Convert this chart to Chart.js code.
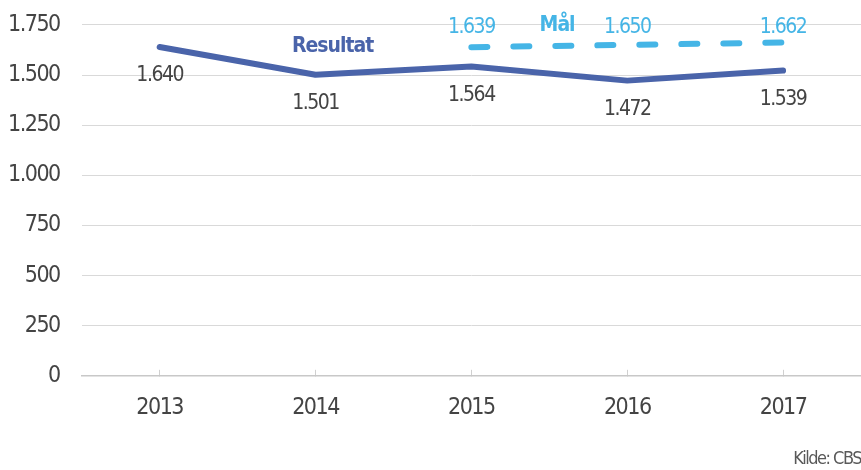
<!DOCTYPE html>
<html>
<head>
<meta charset="utf-8">
<script src="https://cdn.jsdelivr.net/npm/chart.js@4/dist/chart.umd.min.js"></script>
<style>
  html, body { margin: 0; padding: 0; background: #fff; }
  #wrap { width: 861px; height: 470px; }
</style>
</head>
<body>
<div id="wrap"><canvas id="chart"></canvas></div>
<script>
// Data
const years = ['2013', '2014', '2015', '2016', '2017'];
const resultat = [1640, 1501, 1542, 1472, 1522];
const resultatText = ['1.640', '1.501', '1.564', '1.472', '1.539'];
const maal = [null, null, 1639, 1650, 1662];
const maalText = ['', '', '1.639', '1.650', '1.662'];

const FONT = "'DejaVu Sans Condensed', 'DejaVu Sans', sans-serif";
const darkBlue = '#4a64aa';
const lightBlue = '#45b5e6';
const textGrey = '#444444';

// tighter letters so the condensed font gets closer to the narrow original
const tightText = {
    id: 'tightText',
    beforeLayout(chart) { chart.ctx.letterSpacing = '-1.5px'; },
    beforeDraw(chart) { chart.ctx.letterSpacing = '-1.5px'; }
};

// value labels + series names drawn at the points' own positions
const labelPlugin = {
    id: 'valueLabels',
    afterDatasetsDraw(chart) {
        const ctx = chart.ctx;
        const x = chart.scales.x, y = chart.scales.y;
        ctx.save();
        ctx.letterSpacing = '-1.5px';
        ctx.textAlign = 'center';
        ctx.textBaseline = 'middle';
        ctx.font = '21px ' + FONT;

        // Resultat labels below the line
        ctx.fillStyle = textGrey;
        chart.getDatasetMeta(0).data.forEach((pt, i) => {
            ctx.fillText(resultatText[i], pt.x, pt.y + 29);
        });

        // Mål labels above the dashed line
        ctx.fillStyle = lightBlue;
        chart.getDatasetMeta(1).data.forEach((pt, i) => {
            if (maal[i] == null) return;
            ctx.fillText(maalText[i], pt.x, y.getPixelForValue(1738));
        });

        // series names
        ctx.letterSpacing = '-1px';
        ctx.font = 'bold 21px ' + FONT;
        ctx.fillStyle = darkBlue;
        ctx.fillText('Resultat', x.getPixelForValue(1.11), y.getPixelForValue(1640));
        ctx.fillStyle = lightBlue;
        ctx.fillText('Mål', x.getPixelForValue(2.55), y.getPixelForValue(1745));
        ctx.restore();
    }
};

const chart = new Chart(document.getElementById('chart'), {
    type: 'line',
    data: {
        labels: years,
        datasets: [
            { label: 'Resultat', data: resultat, borderColor: darkBlue, borderWidth: 6,
              pointRadius: 0, tension: 0, borderCapStyle: 'round', borderJoinStyle: 'round' },
            { label: 'Mål', data: maal, borderColor: lightBlue, borderWidth: 6,
              borderDash: [16, 26], borderCapStyle: 'round', pointRadius: 0, tension: 0 }
        ]
    },
    options: {
        responsive: true,
        maintainAspectRatio: false,
        animation: false,
        layout: { padding: { top: 0, right: 0, left: -14, bottom: 0 } },
        plugins: {
            legend: { display: false },
            tooltip: { enabled: false },
            title: {
                display: true, position: 'bottom', align: 'end', text: 'Kilde: CBS',
                color: '#595959', font: { family: FONT, size: 18, weight: 'normal' },
                padding: { top: 3, bottom: 0 }
            }
        },
        scales: {
            x: {
                offset: true,
                grid: { drawOnChartArea: false, color: '#d0d0d0', tickLength: -6, lineWidth: 1 },
                border: { display: true, color: '#c8c8c8', width: 1.5 },
                ticks: { color: textGrey, padding: 24, font: { family: FONT, size: 23 } }
            },
            y: {
                min: 0, max: 1750,
                grid: { color: '#d9d9d9', lineWidth: 1, drawTicks: false },
                border: { display: false },
                ticks: {
                    stepSize: 250, padding: 22, color: textGrey,
                    font: { family: FONT, size: 23, lineHeight: 0.25 },
                    callback: v => v.toLocaleString('de-DE')
                }
            }
        }
    },
    plugins: [tightText, labelPlugin]
});
</script>
</body>
</html>
